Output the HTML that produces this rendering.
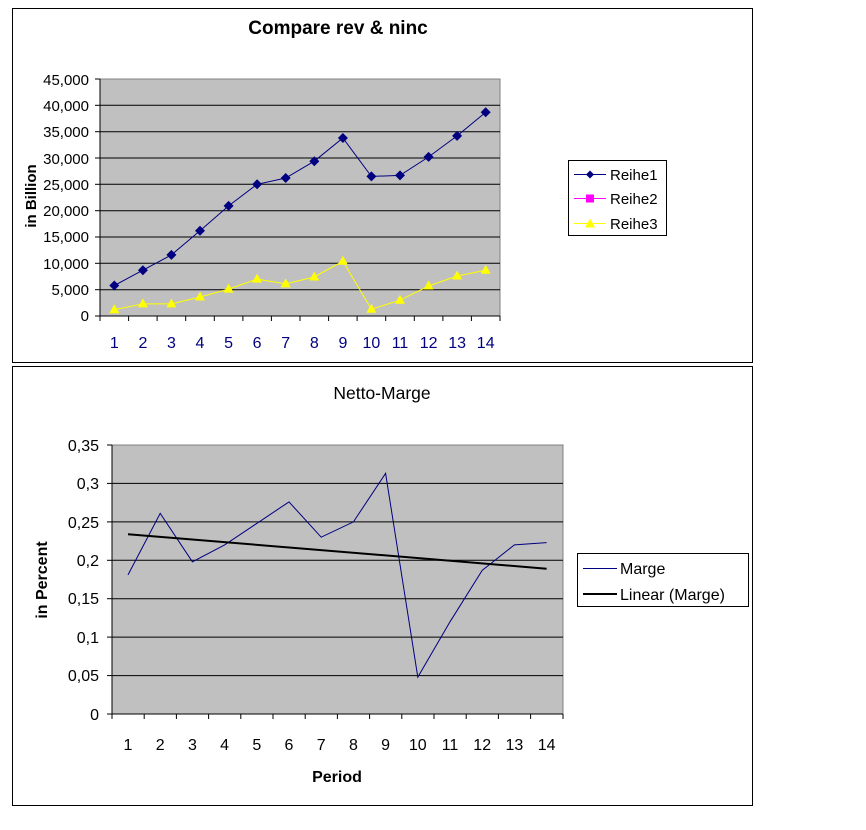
<!DOCTYPE html>
<html><head><meta charset="utf-8"><style>
html,body{margin:0;padding:0;background:#fff;}
svg{display:block;font-family:"Liberation Sans",Arial,sans-serif;}
</style></head><body>
<svg width="866" height="830" viewBox="0 0 866 830" xmlns="http://www.w3.org/2000/svg">
<rect x="12.5" y="8.5" width="740" height="354" fill="#fff" stroke="#000"/>
<rect x="12.5" y="366.5" width="740" height="439" fill="#fff" stroke="#000"/>
<!-- Top chart -->
<text x="338" y="34" font-size="19" font-weight="bold" text-anchor="middle">Compare rev &amp; ninc</text>
<rect x="100" y="79" width="400" height="237" fill="#c0c0c0" stroke="#808080"/>
<g stroke="#000" stroke-width="1">
<line x1="100" y1="105.3" x2="500" y2="105.3"/><line x1="100" y1="131.7" x2="500" y2="131.7"/>
<line x1="100" y1="158" x2="500" y2="158"/><line x1="100" y1="184.3" x2="500" y2="184.3"/>
<line x1="100" y1="210.7" x2="500" y2="210.7"/><line x1="100" y1="237" x2="500" y2="237"/>
<line x1="100" y1="263.3" x2="500" y2="263.3"/><line x1="100" y1="289.7" x2="500" y2="289.7"/>
<line x1="100" y1="316" x2="500" y2="316"/><line x1="100" y1="79" x2="100" y2="316"/>
</g>
<g stroke="#000">
<line x1="95" y1="79" x2="100" y2="79"/><line x1="95" y1="105.3" x2="100" y2="105.3"/><line x1="95" y1="131.7" x2="100" y2="131.7"/><line x1="95" y1="158" x2="100" y2="158"/><line x1="95" y1="184.3" x2="100" y2="184.3"/><line x1="95" y1="210.7" x2="100" y2="210.7"/><line x1="95" y1="237" x2="100" y2="237"/><line x1="95" y1="263.3" x2="100" y2="263.3"/><line x1="95" y1="289.7" x2="100" y2="289.7"/><line x1="95" y1="316" x2="100" y2="316"/>
<line x1="100" y1="316" x2="100" y2="321"/><line x1="128.6" y1="316" x2="128.6" y2="321"/><line x1="157.1" y1="316" x2="157.1" y2="321"/><line x1="185.7" y1="316" x2="185.7" y2="321"/><line x1="214.3" y1="316" x2="214.3" y2="321"/><line x1="242.9" y1="316" x2="242.9" y2="321"/><line x1="271.4" y1="316" x2="271.4" y2="321"/><line x1="300" y1="316" x2="300" y2="321"/><line x1="328.6" y1="316" x2="328.6" y2="321"/><line x1="357.1" y1="316" x2="357.1" y2="321"/><line x1="385.7" y1="316" x2="385.7" y2="321"/><line x1="414.3" y1="316" x2="414.3" y2="321"/><line x1="442.9" y1="316" x2="442.9" y2="321"/><line x1="471.4" y1="316" x2="471.4" y2="321"/><line x1="500" y1="316" x2="500" y2="321"/>
</g>
<g font-size="15" text-anchor="end" fill="#000">
<text x="89" y="85">45,000</text><text x="89" y="111">40,000</text><text x="89" y="137">35,000</text><text x="89" y="164">30,000</text><text x="89" y="190">25,000</text><text x="89" y="216">20,000</text><text x="89" y="242">15,000</text><text x="89" y="269">10,000</text><text x="89" y="295">5,000</text><text x="89" y="321">0</text>
</g>
<g font-size="16" text-anchor="middle" fill="#000080">
<text x="114.3" y="348">1</text><text x="142.9" y="348">2</text><text x="171.4" y="348">3</text><text x="200" y="348">4</text><text x="228.6" y="348">5</text><text x="257.1" y="348">6</text><text x="285.7" y="348">7</text><text x="314.3" y="348">8</text><text x="342.9" y="348">9</text><text x="371.4" y="348">10</text><text x="400" y="348">11</text><text x="428.6" y="348">12</text><text x="457.1" y="348">13</text><text x="485.7" y="348">14</text>
</g>
<text transform="translate(36,196) rotate(-90)" font-size="15" font-weight="bold" text-anchor="middle">in Billion</text>
<polyline fill="none" stroke="#000080" stroke-width="1" points="114.3,285.5 142.9,270.2 171.4,254.9 200,230.7 228.6,205.9 257.1,184.3 285.7,178 314.3,161.2 342.9,138 371.4,176.4 400,175.4 428.6,156.9 457.1,135.9 485.7,112.2"/>
<g fill="#000080">
<path d="M114.3,280.5l5,5-5,5-5-5z"/><path d="M142.9,265.2l5,5-5,5-5-5z"/><path d="M171.4,249.9l5,5-5,5-5-5z"/><path d="M200,225.7l5,5-5,5-5-5z"/><path d="M228.6,200.9l5,5-5,5-5-5z"/><path d="M257.1,179.3l5,5-5,5-5-5z"/><path d="M285.7,173l5,5-5,5-5-5z"/><path d="M314.3,156.2l5,5-5,5-5-5z"/><path d="M342.9,133l5,5-5,5-5-5z"/><path d="M371.4,171.4l5,5-5,5-5-5z"/><path d="M400,170.4l5,5-5,5-5-5z"/><path d="M428.6,151.9l5,5-5,5-5-5z"/><path d="M457.1,130.9l5,5-5,5-5-5z"/><path d="M485.7,107.2l5,5-5,5-5-5z"/>
</g>
<polyline fill="none" stroke="#ffff00" stroke-width="1" points="114.3,309.7 142.9,303.9 171.4,303.9 200,297 228.6,289.1 257.1,279.1 285.7,283.9 314.3,277 342.9,261.2 371.4,309.2 400,300.2 428.6,286 457.1,276 485.7,270.2"/>
<g fill="#ffff00">
<path d="M114.3,304.2l5,9h-10z"/><path d="M142.9,298.4l5,9h-10z"/><path d="M171.4,298.4l5,9h-10z"/><path d="M200,291.5l5,9h-10z"/><path d="M228.6,283.6l5,9h-10z"/><path d="M257.1,273.6l5,9h-10z"/><path d="M285.7,278.4l5,9h-10z"/><path d="M314.3,271.5l5,9h-10z"/><path d="M342.9,255.7l5,9h-10z"/><path d="M371.4,303.7l5,9h-10z"/><path d="M400,294.7l5,9h-10z"/><path d="M428.6,280.5l5,9h-10z"/><path d="M457.1,270.5l5,9h-10z"/><path d="M485.7,264.7l5,9h-10z"/>
</g>
<rect x="568.5" y="160.5" width="98" height="75" fill="#fff" stroke="#000"/>
<line x1="574" y1="174.5" x2="606" y2="174.5" stroke="#000080"/><path d="M590,170.5l4,4-4,4-4-4z" fill="#000080"/>
<line x1="574" y1="198.5" x2="606" y2="198.5" stroke="#ff00ff"/><rect x="586" y="194.5" width="8" height="8" fill="#ff00ff"/>
<line x1="574" y1="223.5" x2="606" y2="223.5" stroke="#ffff00"/><path d="M590,218.5l5,9h-10z" fill="#ffff00"/>
<g font-size="15"><text x="610" y="180">Reihe1</text><text x="610" y="204">Reihe2</text><text x="610" y="229">Reihe3</text></g>
<!-- Bottom chart -->
<text x="382" y="399" font-size="17.5" text-anchor="middle">Netto-Marge</text>
<rect x="112" y="445" width="451" height="269" fill="#c0c0c0" stroke="#808080"/>
<g stroke="#000">
<line x1="112" y1="483.4" x2="563" y2="483.4"/><line x1="112" y1="521.9" x2="563" y2="521.9"/><line x1="112" y1="560.3" x2="563" y2="560.3"/><line x1="112" y1="598.7" x2="563" y2="598.7"/><line x1="112" y1="637.1" x2="563" y2="637.1"/><line x1="112" y1="675.6" x2="563" y2="675.6"/><line x1="112" y1="714" x2="563" y2="714"/><line x1="112" y1="445" x2="112" y2="714"/>
<line x1="107" y1="445" x2="112" y2="445"/><line x1="107" y1="483.4" x2="112" y2="483.4"/><line x1="107" y1="521.9" x2="112" y2="521.9"/><line x1="107" y1="560.3" x2="112" y2="560.3"/><line x1="107" y1="598.7" x2="112" y2="598.7"/><line x1="107" y1="637.1" x2="112" y2="637.1"/><line x1="107" y1="675.6" x2="112" y2="675.6"/><line x1="107" y1="714" x2="112" y2="714"/>
<line x1="112" y1="714" x2="112" y2="719"/><line x1="144.2" y1="714" x2="144.2" y2="719"/><line x1="176.4" y1="714" x2="176.4" y2="719"/><line x1="208.6" y1="714" x2="208.6" y2="719"/><line x1="240.8" y1="714" x2="240.8" y2="719"/><line x1="273" y1="714" x2="273" y2="719"/><line x1="305.2" y1="714" x2="305.2" y2="719"/><line x1="337.4" y1="714" x2="337.4" y2="719"/><line x1="369.6" y1="714" x2="369.6" y2="719"/><line x1="401.8" y1="714" x2="401.8" y2="719"/><line x1="434" y1="714" x2="434" y2="719"/><line x1="466.2" y1="714" x2="466.2" y2="719"/><line x1="498.4" y1="714" x2="498.4" y2="719"/><line x1="530.6" y1="714" x2="530.6" y2="719"/><line x1="563" y1="714" x2="563" y2="719"/>
</g>
<g font-size="16" text-anchor="end">
<text x="99" y="451">0,35</text><text x="99" y="489">0,3</text><text x="99" y="528">0,25</text><text x="99" y="566">0,2</text><text x="99" y="604">0,15</text><text x="99" y="643">0,1</text><text x="99" y="681">0,05</text><text x="99" y="720">0</text>
</g>
<g font-size="16" text-anchor="middle">
<text x="128" y="750">1</text><text x="160.2" y="750">2</text><text x="192.4" y="750">3</text><text x="224.6" y="750">4</text><text x="256.8" y="750">5</text><text x="289" y="750">6</text><text x="321.2" y="750">7</text><text x="353.4" y="750">8</text><text x="385.6" y="750">9</text><text x="417.8" y="750">10</text><text x="450" y="750">11</text><text x="482.2" y="750">12</text><text x="514.4" y="750">13</text><text x="546.6" y="750">14</text>
</g>
<text x="337" y="782" font-size="16" font-weight="bold" text-anchor="middle">Period</text>
<text transform="translate(47,580) rotate(-90)" font-size="16" font-weight="bold" text-anchor="middle">in Percent</text>
<polyline fill="none" stroke="#000080" stroke-width="1" points="128,574.9 160.2,513.4 192.4,561.8 224.6,544.9 256.8,523.4 289,501.9 321.2,537.2 353.4,521.9 385.6,473.4 417.8,677.1 450,621.8 482.2,570.3 514.4,544.9 546.6,542.6"/>
<line x1="128" y1="534.2" x2="546.6" y2="568.7" stroke="#000" stroke-width="2"/>
<rect x="577.5" y="553.5" width="171" height="53" fill="#fff" stroke="#000"/>
<line x1="583" y1="568.5" x2="617" y2="568.5" stroke="#000080"/>
<line x1="583" y1="594" x2="617" y2="594" stroke="#000" stroke-width="2"/>
<g font-size="16"><text x="620" y="574">Marge</text><text x="620" y="600">Linear (Marge)</text></g>
</svg>
</body></html>
